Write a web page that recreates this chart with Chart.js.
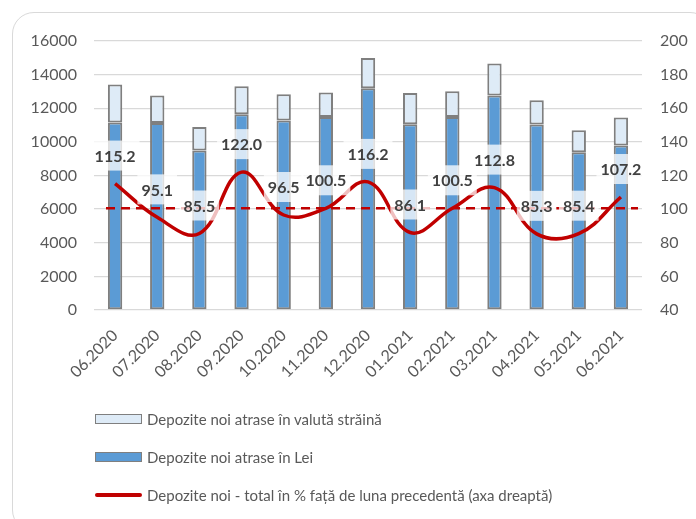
<!DOCTYPE html>
<html>
<head>
<meta charset="utf-8">
<script src="https://cdn.jsdelivr.net/npm/chart.js@4.4.1/dist/chart.umd.min.js"></script>
<style>
  html, body { margin: 0; padding: 0; background: #fff; }
  #wrap { position: relative; width: 696px; height: 519px; overflow: hidden; }
  #frame {
    position: absolute; left: 12px; top: 12px; width: 700px; height: 520px;
    border: 1.5px solid #d9d9d9; border-radius: 22px; box-sizing: border-box;
  }
  #chart { position: absolute; left: 0; top: 0; }
  #legend { position: absolute; left: 95px; top: 400px; font-family: Lato, sans-serif; font-size: 15px; color: #595959; }
  .item { display: flex; align-items: center; height: 38px; }
  .swatch { width: 47px; height: 10px; box-sizing: border-box; margin-right: 5px; }
</style>
</head>
<body>
<div id="wrap">
  <div id="frame"></div>
  <canvas id="chart" width="696" height="519"></canvas>
  <div id="legend"></div>
</div>
<script>
const months = ['06.2020','07.2020','08.2020','09.2020','10.2020','11.2020','12.2020',
                '01.2021','02.2021','03.2021','04.2021','05.2021','06.2021'];
// new deposits in lei (left axis)
const depLei = [11150, 11130, 9490, 11645, 11270, 11485, 13190, 11050, 11485, 12755, 11030, 9385, 9785];
// new deposits in foreign currency (stacked on top)
const depValuta = [2260, 1625, 1400, 1665, 1560, 1445, 1800, 1860, 1525, 1900, 1445, 1310, 1665];
// total, % vs previous month (right axis)
const pctChange = [115.2, 95.1, 85.5, 122.0, 96.5, 100.5, 116.2, 86.1, 100.5, 112.8, 85.3, 85.4, 107.2];
const refLevel = 100;

const tickFont = { family: 'Lato', size: 16 };
const tickColor = '#595959';

const extrasPlugin = {
  id: 'extras',
  afterDatasetsDraw(chart) {
    const ctx = chart.ctx;
    const area = chart.chartArea;
    const y1 = chart.scales.y1;
    // dashed 100% line
    ctx.save();
    ctx.strokeStyle = '#c00000';
    ctx.lineWidth = 2.5;
    ctx.setLineDash([9, 6]);
    const yy = y1.getPixelForValue(refLevel) - 1;
    ctx.beginPath();
    ctx.moveTo(area.left + 12, yy);
    ctx.lineTo(area.right - 4, yy);
    ctx.stroke();
    ctx.restore();

    // data labels with translucent boxes
    const meta = chart.getDatasetMeta(2);
    ctx.save();
    ctx.font = 'bold 16px Lato';
    ctx.textAlign = 'center';
    ctx.textBaseline = 'middle';
    meta.data.forEach((pt, i) => {
      const txt = pctChange[i].toFixed(1);
      const w = ctx.measureText(txt).width + 8;
      const cx = pt.x, cy = pt.y - 28;
      ctx.fillStyle = 'rgba(255,255,255,0.75)';
      ctx.fillRect(cx - w / 2, cy - 15, w, 30);
      ctx.fillStyle = '#404040';
      ctx.fillText(txt, cx, cy + 1);
    });
    ctx.restore();
  }
};

const chart = new Chart(document.getElementById('chart'), {
  type: 'bar',
  data: {
    labels: months,
    datasets: [{
      label: 'Depozite noi atrase în Lei',
      data: depLei,
      backgroundColor: '#5b9bd5',
      borderColor: '#7f7f7f',
      borderWidth: 2,
      borderSkipped: false,
      yAxisID: 'y',
      order: 1
    }, {
      label: 'Depozite noi atrase în valută străină',
      data: depValuta,
      backgroundColor: '#deebf7',
      borderColor: '#7f7f7f',
      borderWidth: 2,
      borderSkipped: false,
      yAxisID: 'y',
      order: 1
    }, {
      type: 'line',
      label: 'Depozite noi - total în % față de luna precedentă (axa dreaptă)',
      data: pctChange,
      borderColor: '#c00000',
      backgroundColor: '#c00000',
      borderWidth: 3.5,
      tension: 0.4,
      pointRadius: 0,
      yAxisID: 'y1',
      order: 0
    }]
  },
  options: {
    responsive: false,
    animation: false,
    devicePixelRatio: 1,
    layout: { padding: { top: 41, bottom: 129, left: 0, right: 0 } },
    datasets: { bar: { barPercentage: 0.34, categoryPercentage: 1 } },
    plugins: { legend: { display: false }, tooltip: { enabled: false } },
    scales: {
      x: {
        stacked: true,
        grid: { display: false },
        border: { display: false },
        ticks: { font: tickFont, color: tickColor, maxRotation: 45, minRotation: 45, padding: 8 },
        afterFit: s => { s.height = 80; }
      },
      y: {
        stacked: true,
        position: 'left',
        min: 0, max: 16000,
        ticks: { stepSize: 2000, font: tickFont, color: tickColor, padding: 17, callback: v => String(v) },
        grid: { color: '#d9d9d9', lineWidth: 1.3, drawTicks: false },
        border: { display: false },
        afterFit: s => { s.width = 94; }
      },
      y1: {
        position: 'right',
        min: 40, max: 200,
        ticks: { stepSize: 20, font: tickFont, color: tickColor, padding: 18, callback: v => String(v) },
        grid: { display: false, drawTicks: false },
        border: { display: false },
        afterFit: s => { s.width = 54; }
      }
    }
  },
  plugins: [extrasPlugin]
});

// vertical legend under the plot, same order as the original
const legendEl = document.getElementById('legend');
[1, 0, 2].forEach(i => {
  const ds = chart.data.datasets[i];
  const row = document.createElement('div');
  row.className = 'item';
  const sw = document.createElement('span');
  sw.className = 'swatch';
  if (ds.type === 'line') {
    sw.style.height = '4px';
    sw.style.background = ds.borderColor;
    sw.style.borderRadius = '2px';
  } else {
    sw.style.background = ds.backgroundColor;
    sw.style.border = '1.5px solid ' + ds.borderColor;
  }
  const txt = document.createElement('span');
  txt.textContent = ds.label;
  row.appendChild(sw);
  row.appendChild(txt);
  legendEl.appendChild(row);
});
</script>
</body>
</html>
